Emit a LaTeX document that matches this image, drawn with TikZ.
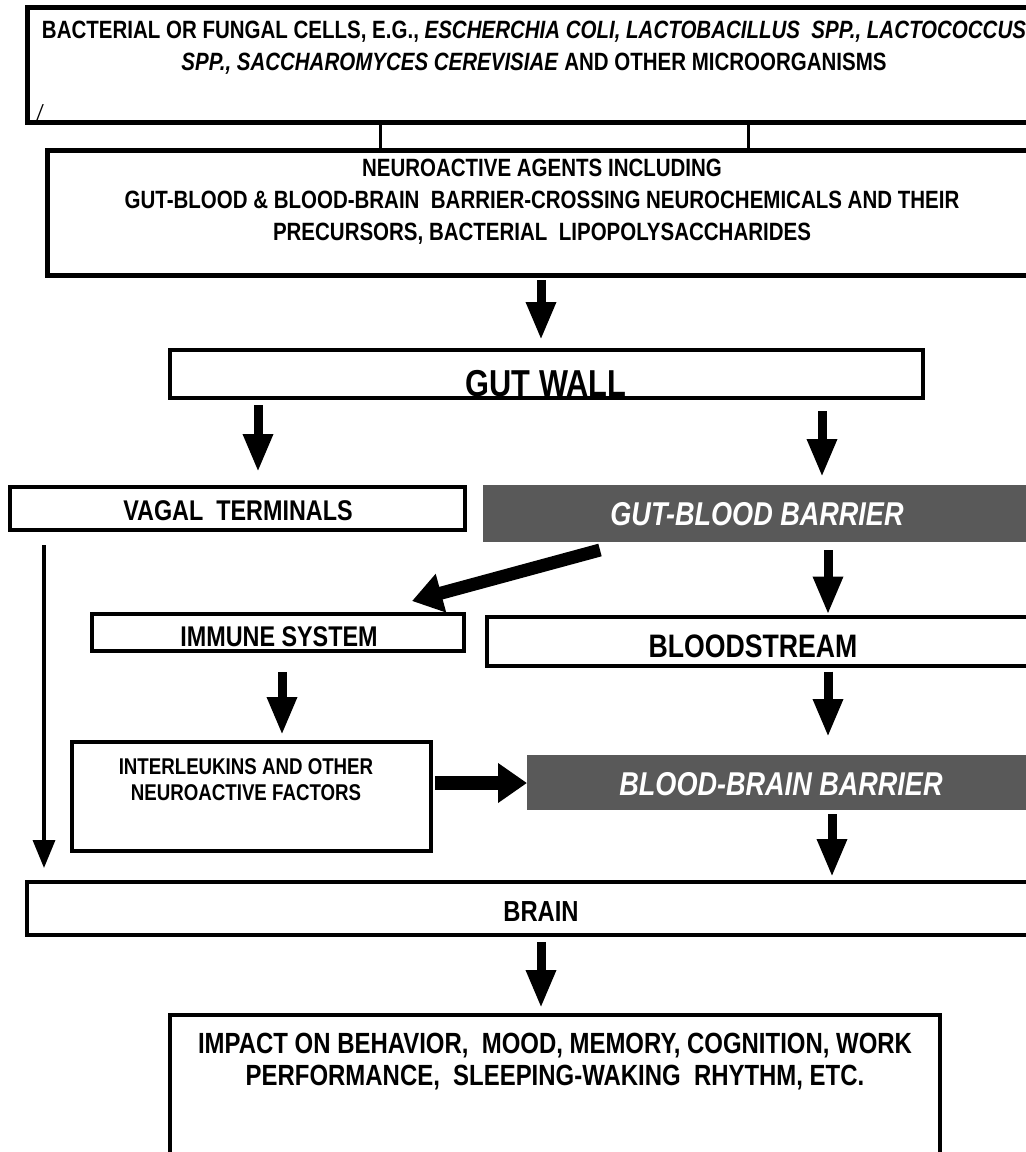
\documentclass[tikz,border=0pt]{standalone}
\usepackage{fontspec}
\setmainfont{Liberation Sans}[FakeStretch=0.82]
\usetikzlibrary{arrows.meta,positioning,calc}
\definecolor{barrier}{HTML}{595959}
\newcommand{\fsz}[2]{\fontsize{#1}{#2}\selectfont}
\tikzset{
  box/.style={draw,line width=4pt,inner sep=0pt,outer sep=0pt},
  graybox/.style={fill=barrier,inner sep=0pt,outer sep=0pt},
  txt/.style={inner sep=0pt,outer sep=0pt,anchor=base,align=center},
  bigarrow/.style={line width=9pt,-{Triangle[length=38pt,width=28pt]}},
  fatarrow/.style={line width=13pt,-{Triangle[length=30pt,width=38pt]}},
  thinarrow/.style={line width=3.5pt,-{Triangle[length=28pt,width=22pt]}},
  link/.style={line width=3pt}
}
\begin{document}
\begin{tikzpicture}[x=1pt,y=-1pt]
        \useasboundingbox(0,0)rectangle(1026,1152);
        \clip(0,0)rectangle(1026,1152);

        \node[box,line width=5pt,minimum width=1023pt,minimum height=115pt](bact)at(538.5,65){};
        \node[box,line width=5pt,minimum width=1003pt,minimum height=125pt](agents)at(548.5,212.5){};
        \node[box,minimum width=753pt,minimum height=48pt](gutwall)at(546.5,374){};
        \node[box,line width=4.5pt,minimum width=455pt,minimum height=43pt](vagal)at(237.5,508.5){};
        \node[graybox,minimum width=547pt,minimum height=57pt](gbb)at(756.5,513.5){};
        \node[box,minimum width=372pt,minimum height=37pt](immune)at(278,632.5){};
        \node[box,minimum width=563pt,minimum height=49pt](blood)at(768.5,641){};
        \node[box,minimum width=359pt,minimum height=109pt](ilk)at(251.5,796.5){};
        \node[graybox,minimum width=503pt,minimum height=55pt](bbb)at(778.5,782.5){};
        \node[box,line width=4.5pt,minimum width=1023pt,minimum height=53pt](brain)at(538.5,908.5){};
        \node[box,minimum width=770pt,minimum height=155pt](impact)at(555,1092.5){};

        \node[txt,font=\bfseries\fsz{25}{32}](bact-t)at(534,70){BACTERIAL OR FUNGAL CELLS, E.G., \textit{ESCHERCHIA COLI, LACTOBACILLUS\ \ SPP., LACTOCOCCUS}\\\textit{SPP., SACCHAROMYCES CEREVISIAE} AND OTHER MICROORGANISMS};
        \node[txt,font=\itshape\fsz{22}{22}](slash)at(40,120){/};
        \node[txt,font=\bfseries\fsz{25}{32}](agents-t)at(542,240){NEUROACTIVE AGENTS INCLUDING\\GUT-BLOOD \& BLOOD-BRAIN\ \ BARRIER-CROSSING NEUROCHEMICALS AND THEIR\\PRECURSORS, BACTERIAL\ \ LIPOPOLYSACCHARIDES};
        \node[txt,font=\bfseries\fsz{37.5}{40}](gutwall-t)at(546,396){GUT WALL};
        \node[txt,font=\bfseries\fsz{28.5}{30}](vagal-t)at(238,520){VAGAL\ \ TERMINALS};
        \node[txt,font=\bfseries\itshape\fsz{33}{35},text=white](gbb-t)at(757,525){GUT-BLOOD BARRIER};
        \node[txt,font=\bfseries\fsz{28.5}{30}](immune-t)at(279,646){IMMUNE SYSTEM};
        \node[txt,font=\bfseries\fsz{32.5}{35}](blood-t)at(753,657){BLOODSTREAM};
        \node[txt,font=\bfseries\fsz{22.8}{26}](ilk-t)at(246,800){INTERLEUKINS AND OTHER\\NEUROACTIVE FACTORS};
        \node[txt,font=\bfseries\itshape\fsz{33}{35},text=white](bbb-t)at(781,795){BLOOD-BRAIN BARRIER};
        \node[txt,font=\bfseries\fsz{29}{30}](brain-t)at(541,921){BRAIN};
        \node[txt,font=\bfseries\fsz{29.2}{32}](impact-t)at(555,1085){IMPACT ON BEHAVIOR,\ \ MOOD, MEMORY, COGNITION, WORK\\PERFORMANCE,\ \ SLEEPING-WAKING\ \ RHYTHM, ETC.};

        \draw[link]($(bact.south)+(-158.5,0)$)--($(agents.north)+(-168.5,0)$);
        \draw[link]($(bact.south)+(209.5,0)$)--($(agents.north)+(199.5,0)$);

        \draw[bigarrow]($(agents.south)+(-7.5,5)$)--($(gutwall.north)+(-5.5,-10)$);
        \draw[bigarrow]($(gutwall.south west)+(88,7)$)--($(vagal.north)+(20.5,-15)$);
        \draw[bigarrow]($(gutwall.south east)+(-101,13)$)--($(gbb.north)+(65.5,-8)$);
        \draw[thinarrow]($(vagal.south west)+(34,15)$)--($(brain.north west)+(17,-14)$);
        \draw[fatarrow]($(gbb.south)+(-156.5,8)$)--($(immune.north east)+(-52,-13)$);
        \draw[bigarrow]($(gbb.south)+(71.5,8)$)--($(blood.north)+(59.5,-2)$);
        \draw[bigarrow]($(immune.south)+(4,21)$)--($(ilk.north)+(30.5,-7)$);
        \draw[bigarrow]($(blood.south)+(59.5,6)$)--($(bbb.north)+(49.5,-18)$);
        \draw[fatarrow,line width=14pt,-{Triangle[length=29pt,width=38pt]}]($(ilk.east)+(4,-13.5)$)--($(bbb.west)+(0,0.5)$);
        \draw[bigarrow]($(bbb.south)+(53.5,4)$)--($(brain.north)+(293.5,-5)$);
        \draw[bigarrow]($(brain.south)+(2.5,7)$)--($(impact.north)+(-14,-7)$);
    \end{tikzpicture}
\end{document}
